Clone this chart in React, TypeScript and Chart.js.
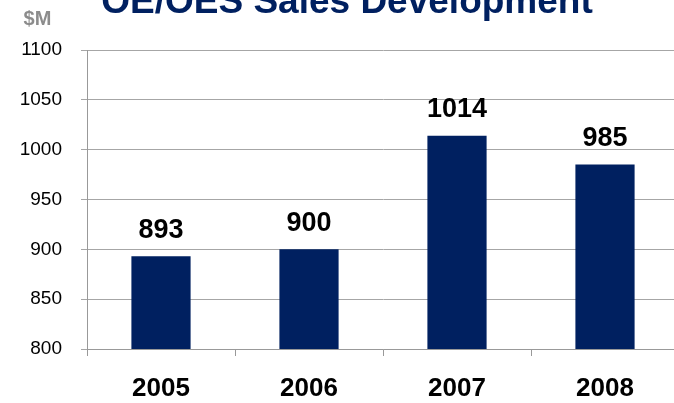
import React, { useEffect, useRef } from "react";
import { Chart, registerables } from "chart.js";

Chart.register(...registerables);

const years = ["2005", "2006", "2007", "2008"];
const sales = [893, 900, 1014, 985];
const yTicks = [800, 850, 900, 950, 1000, 1050, 1100];
const titleText = "OE/OES Sales Development";
const unitText = "$M";

const FONT = "'Liberation Sans', Arial, sans-serif";
const NAVY = "#002060";

const decorPlugin = {
  id: "decor",
  afterDatasetsDraw(chart: any) {
    const ctx = chart.ctx;
    ctx.save();
    // title
    ctx.fillStyle = NAVY;
    ctx.font = `bold 37px ${FONT}`;
    ctx.textAlign = "center";
    ctx.textBaseline = "alphabetic";
    ctx.fillText(titleText, 347, 13);
    // unit
    ctx.fillStyle = "#8c8c8c";
    ctx.font = `bold 20px ${FONT}`;
    ctx.textAlign = "center";
    ctx.textBaseline = "alphabetic";
    ctx.fillText(unitText, 37.5, 25);
    // value labels
    const meta = chart.getDatasetMeta(0);
    ctx.fillStyle = "#000";
    ctx.font = `bold 27px ${FONT}`;
    ctx.textAlign = "center";
    ctx.textBaseline = "alphabetic";
    meta.data.forEach((bar: any, i: number) => {
      ctx.fillText(String(sales[i]), bar.x, bar.y - 18.5);
    });
    ctx.restore();
  },
};

export default function App() {
  const ref = useRef<HTMLCanvasElement | null>(null);
  useEffect(() => {
    if (!ref.current) return;
    const chart = new Chart(ref.current, {
      type: "bar",
      data: {
        labels: years,
        datasets: [
          {
            data: sales,
            backgroundColor: NAVY,
            borderWidth: 0,
            barPercentage: 0.4,
            categoryPercentage: 1,
          },
        ],
      },
      options: {
        responsive: false,
        animation: false,
        layout: { padding: { top: 50, left: 0, right: 21, bottom: 0 } },
        plugins: {
          legend: { display: false },
          tooltip: { enabled: false },
          title: { display: false },
        },
        scales: {
          x: {
            grid: {
              display: true,
              drawOnChartArea: false,
              drawTicks: true,
              tickLength: 7,
              color: "#999999",
              offset: true,
            },
            border: { display: true, color: "#999999" },
            ticks: {
              color: "#000",
              font: { family: FONT, size: 26, weight: "bold" },
              padding: 17,
              maxRotation: 0,
            },
            afterFit(axis: any) {
              axis.height = 54;
            },
          },
          y: {
            min: 800,
            max: 1100,
            afterBuildTicks(axis: any) {
              axis.ticks = yTicks.map((v) => ({ value: v }));
            },
            grid: {
              color: "#a6a6a6",
              drawTicks: true,
              tickLength: 6,
            },
            border: { display: true, color: "#999999" },
            ticks: {
              color: "#000",
              font: { family: FONT, size: 19 },
              padding: 19,
              callback: (v: any) => String(v),
            },
            afterFit(axis: any) {
              axis.width = 87;
            },
          },
        },
      },
      plugins: [decorPlugin],
    });
    return () => chart.destroy();
  }, []);
  return (
    <div
      style={{
        position: "fixed",
        left: 0,
        top: 0,
        width: 674,
        height: 403,
        overflow: "hidden",
        background: "#fff",
      }}
    >
      <canvas ref={ref} width={700} height={403} style={{ display: "block" }} />
    </div>
  );
}
